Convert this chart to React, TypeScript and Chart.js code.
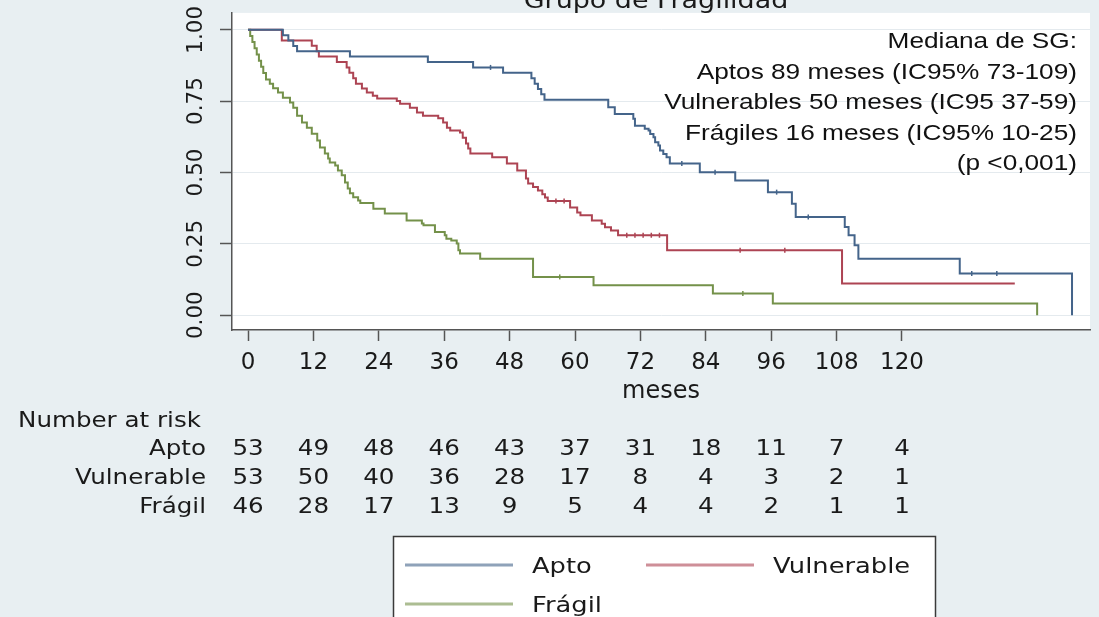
import React, { useEffect, useRef } from 'react';
import { Chart, registerables } from 'chart.js';

Chart.register(...registerables);

const W = 1099;
const H = 617;

// ---------- data ----------
const titleText = 'Grupo de Fragilidad';
const xTitle = 'meses';
const groups = ['Apto', 'Vulnerable', 'Frágil'];
const groupColors = ['#44648a', '#ad4453', '#74914a'];

const xTicks = [0, 12, 24, 36, 48, 60, 72, 84, 96, 108, 120];
const yTicks = [0, 0.25, 0.5, 0.75, 1];
const xRange = [-2.94, 154.5];
const yRange = [-0.052, 1.059];

const aptoTimes = [0, 6.4, 7.4, 8.3, 9.0, 18.7, 33.0, 41.3, 46.8, 52.0, 52.6, 53.2, 53.8, 54.4, 66.1, 67.3, 70.7, 71.0, 72.8, 73.5, 73.8, 74.4, 74.7, 75.3, 75.6, 76.2, 76.8, 77.4, 82.9, 89.4, 95.4, 99.8, 100.5, 109.5, 110.2, 111.3, 112.0, 130.6, 151.2];
const aptoSurv = [1, 0.981, 0.962, 0.943, 0.925, 0.906, 0.887, 0.868, 0.849, 0.83, 0.811, 0.792, 0.774, 0.755, 0.728, 0.705, 0.688, 0.664, 0.653, 0.647, 0.635, 0.623, 0.606, 0.594, 0.577, 0.565, 0.553, 0.531, 0.501, 0.472, 0.431, 0.39, 0.344, 0.309, 0.28, 0.245, 0.198, 0.146, 0];

const vulnTimes = [0, 6.2, 11.7, 12.6, 13.0, 16.3, 18.1, 18.6, 19.3, 19.8, 20.9, 21.8, 22.9, 23.7, 27.3, 27.9, 29.7, 31.0, 32.1, 34.9, 35.8, 36.5, 37.1, 38.9, 39.4, 40.0, 40.4, 40.8, 44.8, 47.5, 49.4, 51.0, 51.4, 52.3, 53.2, 54.0, 54.5, 55.0, 59.1, 60.4, 61.0, 63.1, 64.9, 65.5, 66.6, 67.9, 76.9, 109.0, 140.7];
const vulnSurv = [1, 0.962, 0.944, 0.925, 0.906, 0.887, 0.868, 0.849, 0.83, 0.811, 0.794, 0.78, 0.769, 0.759, 0.75, 0.741, 0.727, 0.71, 0.699, 0.69, 0.675, 0.657, 0.647, 0.64, 0.622, 0.601, 0.584, 0.566, 0.553, 0.531, 0.507, 0.479, 0.461, 0.449, 0.437, 0.424, 0.412, 0.4, 0.377, 0.36, 0.35, 0.332, 0.32, 0.308, 0.297, 0.28, 0.227, 0.111, 0.111];

const fragTimes = [0, 0.4, 0.8, 1.2, 1.6, 2.0, 2.4, 2.8, 3.3, 4.0, 4.6, 5.5, 6.4, 7.7, 8.3, 9.0, 9.9, 10.8, 11.7, 12.7, 13.2, 14.1, 14.7, 15.0, 16.0, 16.5, 17.2, 17.8, 18.3, 18.7, 19.3, 20.2, 20.6, 23.0, 25.1, 29.1, 31.9, 32.2, 34.3, 36.1, 36.4, 37.3, 38.3, 38.6, 38.9, 42.6, 52.3, 63.4, 85.3, 96.3, 144.8];
const fragSurv = [1, 0.978, 0.957, 0.935, 0.913, 0.891, 0.87, 0.848, 0.826, 0.811, 0.795, 0.78, 0.762, 0.745, 0.727, 0.699, 0.675, 0.657, 0.636, 0.612, 0.587, 0.566, 0.549, 0.535, 0.524, 0.507, 0.49, 0.465, 0.444, 0.427, 0.413, 0.402, 0.393, 0.373, 0.356, 0.332, 0.321, 0.315, 0.291, 0.28, 0.268, 0.262, 0.251, 0.227, 0.216, 0.198, 0.134, 0.105, 0.076, 0.041, 0];

const aptoCensorTimes = [44.5, 79.6, 85.7, 97.0, 102.8, 132.8, 137.4];
const aptoCensorSurv = [0.868, 0.531, 0.501, 0.431, 0.344, 0.146, 0.146];
const vulnCensorTimes = [56.5, 58.0, 69.5, 71.0, 72.5, 74.0, 75.5, 90.3, 98.5];
const vulnCensorSurv = [0.4, 0.4, 0.28, 0.28, 0.28, 0.28, 0.28, 0.227, 0.227];
const fragCensorTimes = [57.2, 90.8];
const fragCensorSurv = [0.134, 0.076];

const riskTitle = 'Number at risk';
const riskApto = [53, 49, 48, 46, 43, 37, 31, 18, 11, 7, 4];
const riskVuln = [53, 50, 40, 36, 28, 17, 8, 4, 3, 2, 1];
const riskFrag = [46, 28, 17, 13, 9, 5, 4, 4, 2, 1, 1];

const noteLines = [
  'Mediana de SG:',
  'Aptos 89 meses (IC95% 73-109)',
  'Vulnerables 50 meses (IC95 37-59)',
  'Frágiles 16 meses (IC95% 10-25)',
  '(p <0,001)',
];

// ---------- helpers ----------
const STATA = '"DejaVu Sans", sans-serif';
const HELV = '"Liberation Sans", Arial, sans-serif';

function pts(t: number[], s: number[]) {
  return t.map((x, i) => ({ x, y: s[i] }));
}

function sText(
  ctx: CanvasRenderingContext2D,
  txt: string,
  x: number,
  y: number,
  align: CanvasTextAlign,
  font: string,
  sx: number,
  color = '#1a1a1a',
  baseline: CanvasTextBaseline = 'middle'
) {
  ctx.save();
  ctx.font = font;
  ctx.fillStyle = color;
  ctx.textAlign = align;
  ctx.textBaseline = baseline;
  ctx.translate(x, y);
  ctx.scale(sx, 1);
  ctx.fillText(txt, 0, 0);
  ctx.restore();
}

export default function App() {
  const ref = useRef<HTMLCanvasElement>(null);

  useEffect(() => {
    const canvas = ref.current;
    if (!canvas) return;

    const plotBg = {
      id: 'plotBg',
      beforeDraw(chart: any) {
        const { ctx, chartArea: a } = chart;
        ctx.save();
        ctx.fillStyle = '#ffffff';
        ctx.fillRect(a.left, a.top, a.right - a.left, a.bottom - a.top);
        ctx.restore();
      },
    };

    const extras = {
      id: 'extras',
      afterDraw(chart: any) {
        const ctx: CanvasRenderingContext2D = chart.ctx;
        const xs = chart.scales.x;

        // title (cut at the top as in the source)
        sText(ctx, titleText, 656, 8, 'center', `23px ${STATA}`, 1.17, '#1a1a1a', 'alphabetic');

        // median annotation
        noteLines.forEach((t, i) => {
          sText(ctx, t, 1077, 42 + i * 30.5, 'right', `22.5px ${HELV}`, 1.165, '#111');
        });

        // number at risk table
        sText(ctx, riskTitle, 18, 422, 'left', `21px ${STATA}`, 1.17);
        const rows = [riskApto, riskVuln, riskFrag];
        const rowY = [450, 479, 508];
        rows.forEach((row, r) => {
          sText(ctx, groups[r], 206, rowY[r], 'right', `21px ${STATA}`, 1.17);
          row.forEach((n, i) => {
            const px = xs.getPixelForValue(xTicks[i]);
            sText(ctx, String(n), px, rowY[r], 'center', `21px ${STATA}`, 1.17);
          });
        });

        // legend box
        ctx.save();
        ctx.fillStyle = '#ffffff';
        ctx.fillRect(393, 536, 543, 100);
        ctx.strokeStyle = '#3a3a3a';
        ctx.lineWidth = 1.5;
        ctx.strokeRect(393.5, 536.5, 542, 100);
        ctx.restore();
        const items = [
          { x: 405, y: 565 },
          { x: 646, y: 565 },
          { x: 405, y: 604 },
        ];
        items.forEach((it, i) => {
          const ds = chart.data.datasets[i];
          ctx.save();
          ctx.globalAlpha = 0.6;
          ctx.strokeStyle = ds.borderColor;
          ctx.lineWidth = 3;
          ctx.beginPath();
          ctx.moveTo(it.x, it.y);
          ctx.lineTo(it.x + 108, it.y);
          ctx.stroke();
          ctx.restore();
          sText(ctx, ds.label, it.x + 127, it.y + 2, 'left', `22px ${STATA}`, 1.17);
        });
      },
    };

    const curve = (label: string, data: any[], color: string) => ({
      label,
      data,
      borderColor: color,
      backgroundColor: color,
      borderWidth: 2,
      stepped: 'before' as const,
      pointRadius: 0,
      fill: false,
      tension: 0,
    });
    const censor = (label: string, data: any[], color: string) => ({
      label,
      data,
      showLine: false,
      borderColor: color,
      backgroundColor: color,
      pointStyle: 'line' as const,
      pointRotation: 90,
      pointRadius: 2.5,
      pointBorderWidth: 1.5,
      pointBorderColor: color,
    });

    const chart = new Chart(canvas, {
      type: 'line',
      data: {
        datasets: [
          curve(groups[0], pts(aptoTimes, aptoSurv), groupColors[0]),
          curve(groups[1], pts(vulnTimes, vulnSurv), groupColors[1]),
          curve(groups[2], pts(fragTimes, fragSurv), groupColors[2]),
          censor(groups[0] + ' censurado', pts(aptoCensorTimes, aptoCensorSurv), groupColors[0]),
          censor(groups[1] + ' censurado', pts(vulnCensorTimes, vulnCensorSurv), groupColors[1]),
          censor(groups[2] + ' censurado', pts(fragCensorTimes, fragCensorSurv), groupColors[2]),
        ] as any,
      },
      options: {
        animation: false,
        responsive: false,
        devicePixelRatio: 1,
        events: [],
        layout: { padding: { left: 0, right: 9, top: 12, bottom: 0 } },
        plugins: {
          legend: { display: false },
          tooltip: { enabled: false },
          title: { display: false },
        },
        scales: {
          x: {
            type: 'linear',
            min: xRange[0],
            max: xRange[1],
            afterBuildTicks: (s: any) => {
              s.ticks = xTicks.map((v) => ({ value: v }));
            },
            afterFit: (s: any) => {
              s.height = 287;
            },
            grid: {
              drawOnChartArea: false,
              drawTicks: true,
              tickLength: 11,
              tickColor: '#555',
              tickWidth: 1.5,
            },
            border: { display: true, color: '#555', width: 1.5 },
            ticks: {
              font: { family: STATA, size: 23 },
              color: '#1a1a1a',
              padding: 8,
              maxRotation: 0,
              autoSkip: false,
              callback: (v: any) => String(v),
            },
            title: {
              display: true,
              text: xTitle,
              font: { family: STATA, size: 24 },
              color: '#1a1a1a',
              padding: { top: 0, bottom: 211 },
            },
          },
          y: {
            type: 'linear',
            min: yRange[0],
            max: yRange[1],
            afterBuildTicks: (s: any) => {
              s.ticks = yTicks.map((v) => ({ value: v }));
            },
            afterFit: (s: any) => {
              s.width = 232;
            },
            grid: {
              color: '#e4eaee',
              lineWidth: 1,
              drawTicks: true,
              tickLength: 12,
              tickColor: '#555',
              tickWidth: 1.5,
            },
            border: { display: true, color: '#555', width: 1.5 },
            ticks: {
              font: { family: STATA, size: 21.5 },
              color: '#1a1a1a',
              padding: 0,
              minRotation: 90,
              maxRotation: 90,
              crossAlign: 'center',
              callback: (v: any) => Number(v).toFixed(2),
            },
          },
        },
      } as any,
      plugins: [plotBg, extras],
    });

    return () => chart.destroy();
  }, []);

  return (
    <div
      style={{
        position: 'absolute',
        left: 0,
        top: 0,
        width: W,
        height: H,
        background: '#e8eff2',
        overflow: 'hidden',
      }}
    >
      <canvas ref={ref} width={W} height={H} style={{ display: 'block' }} />
    </div>
  );
}
